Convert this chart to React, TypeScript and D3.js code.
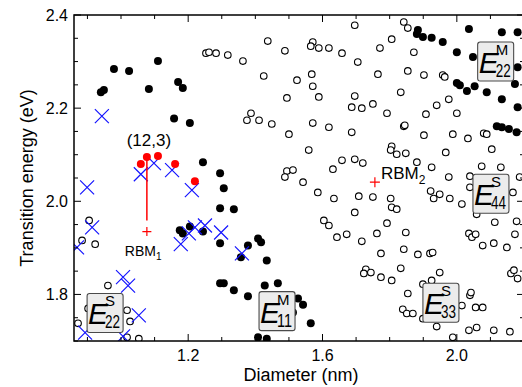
import React from 'react';
import * as d3 from 'd3';

// Kataura-type plot: transition energy vs tube diameter
const metallicPts: [number, number][] = [
  [0.940, 2.234], [0.949, 2.239], [0.979, 2.284], [1.024, 2.280], [1.083, 2.241],
  [1.110, 2.301], [1.170, 2.256], [1.184, 2.243], [1.158, 2.178], [1.205, 2.168],
  [1.244, 2.084], [1.295, 2.060], [1.306, 2.028], [1.295, 1.985], [1.336, 1.983],
  [1.175, 1.938], [1.184, 1.931], [1.205, 1.946], [1.244, 1.935], [1.295, 1.910],
  [1.378, 1.905], [1.357, 1.880], [1.408, 1.920], [1.417, 1.912], [1.434, 1.873],
  [1.295, 1.824], [1.306, 1.824], [1.336, 1.809], [1.378, 1.796], [1.428, 1.819],
  [1.467, 1.824], [1.527, 1.791], [1.542, 1.778], [1.512, 1.761], [1.565, 1.738],
  [1.408, 1.708], [1.434, 1.705],
  [1.884, 2.368], [1.881, 2.359], [1.899, 2.353], [1.925, 2.351], [1.958, 2.342],
  [2.000, 2.320], [2.036, 2.370], [2.048, 2.310], [2.134, 2.363], [2.181, 2.363],
  [2.181, 2.288], [2.000, 2.254], [2.009, 2.249], [2.030, 2.237], [2.053, 2.247],
  [2.089, 2.234], [2.134, 2.219], [2.173, 2.252], [2.181, 2.202], [2.119, 2.161],
  [2.134, 2.159], [2.155, 2.155], [2.178, 2.148],
];

const semiOpenPts: [number, number][] = [
  [0.905, 1.959], [0.884, 1.916], [0.923, 1.908], [0.961, 1.819], [0.902, 1.770],
  [0.872, 1.738], [1.018, 1.766], [1.027, 1.742], [1.018, 1.708], [1.053, 1.705],
  [1.696, 2.378], [1.437, 2.344], [1.571, 2.342], [1.565, 2.333], [1.589, 2.329],
  [1.619, 2.329], [1.658, 2.318], [1.488, 2.323], [1.253, 2.318], [1.262, 2.320],
  [1.283, 2.318], [1.318, 2.314], [1.363, 2.301], [1.705, 2.299], [1.425, 2.269],
  [1.524, 2.260], [1.568, 2.273], [1.571, 2.247], [1.494, 2.222], [1.589, 2.224],
  [1.696, 2.226], [1.687, 2.202], [1.387, 2.189], [1.375, 2.174], [1.411, 2.174],
  [1.449, 2.166], [1.571, 2.168], [1.619, 2.159], [1.842, 2.385], [1.854, 2.372],
  [1.806, 2.348], [1.771, 2.329], [1.872, 2.320], [1.765, 2.273], [1.854, 2.280],
  [1.902, 2.271], [1.958, 2.271], [1.964, 2.267], [1.717, 2.200], [1.750, 2.209],
  [1.833, 2.234], [1.792, 2.189], [1.908, 2.187], [1.940, 2.206], [1.976, 2.219],
  [2.000, 2.189], [1.842, 2.161], [1.687, 2.148], [1.500, 2.144], [1.559, 2.110],
  [1.658, 2.088], [1.696, 2.090], [1.720, 2.082], [1.631, 2.069], [1.494, 2.065],
  [1.512, 2.067], [1.488, 2.052], [1.542, 2.041], [1.586, 2.019], [1.634, 2.006],
  [1.708, 2.011], [1.750, 2.009], [1.696, 1.976], [1.604, 1.959], [1.619, 1.948],
  [1.643, 1.923], [1.672, 1.929], [1.717, 1.914], [1.762, 1.931], [1.845, 2.163],
  [1.902, 2.142], [1.988, 2.144], [2.033, 2.135], [2.080, 2.146], [2.089, 2.144],
  [1.806, 2.118], [1.803, 2.110], [1.821, 2.101], [1.848, 2.103], [1.881, 2.084],
  [1.967, 2.105], [2.104, 2.112], [1.925, 2.073], [2.039, 2.054], [2.074, 2.075],
  [2.131, 2.073], [1.976, 2.052], [2.187, 2.052], [2.039, 2.030], [1.922, 2.022],
  [1.949, 2.015], [1.931, 2.006], [1.979, 2.006], [2.015, 1.994], [1.803, 2.006],
  [1.806, 1.987], [1.821, 1.983], [2.167, 2.019], [2.178, 1.957], [2.113, 1.955],
  [1.792, 1.953], [1.848, 1.933], [2.036, 1.931], [2.045, 1.923], [2.056, 1.929],
  [2.173, 1.929], [2.077, 1.905], [2.110, 1.910], [2.149, 1.901], [1.842, 1.897],
  [1.774, 1.888], [1.884, 1.886], [1.920, 1.888], [1.928, 1.890], [1.729, 1.854],
  [1.723, 1.845], [1.744, 1.847], [1.774, 1.837], [1.806, 1.830], [1.833, 1.856],
  [1.949, 1.847], [1.899, 1.822], [1.925, 1.830], [1.854, 1.802], [2.039, 1.798],
  [2.042, 1.804], [2.161, 1.845], [2.170, 1.852], [2.181, 1.834], [1.839, 1.768],
  [1.851, 1.759], [1.869, 1.759], [1.899, 1.748], [1.940, 1.731], [2.015, 1.776],
  [2.056, 1.772], [2.077, 1.772], [2.036, 1.723], [2.059, 1.729], [2.110, 1.723],
  [2.158, 1.720], [1.988, 1.708], [2.059, 1.972],
];

const e22Crosses: [number, number][] = [
  [0.943, 2.183], [0.899, 2.030], [0.914, 1.944], [0.869, 1.901], [1.059, 2.058],
  [1.098, 2.082], [1.152, 2.067], [1.211, 2.024], [1.178, 1.908], [1.202, 1.931],
  [1.220, 1.944], [1.250, 1.948], [1.298, 1.933], [1.360, 1.888], [1.006, 1.837],
  [1.021, 1.819], [1.053, 1.755], [0.893, 1.718], [1.006, 1.710],
];

const family123: [number, number][] = [
  [1.059, 2.080], [1.077, 2.095], [1.110, 2.097], [1.161, 2.080], [1.220, 2.043],
];

const rbm1: [number, number] = [1.077, 1.935];
const rbm1LineTop = 2.095;
const rbm1LineBottom = 1.959;
const rbm2: [number, number] = [1.756, 2.041];

const bandBoxes = [
  { sup: 'S', sub: '22', d: 0.899, e: 1.802 },
  { sup: 'M', sub: '11', d: 1.411, e: 1.806 },
  { sup: 'S', sub: '33', d: 1.899, e: 1.824 },
  { sup: 'S', sub: '44', d: 2.048, e: 2.058 },
  { sup: 'M', sub: '22', d: 2.062, e: 2.342 },
];

const xTickLabels = [1.2, 1.6, 2.0];
const yTickLabels = [1.8, 2.0, 2.2, 2.4];

const W = 522;
const H = 387;
const margin = { top: 15, right: -2, bottom: 46, left: 74 };
const font = "'Liberation Sans', Arial, Helvetica, sans-serif";

export default function App() {
  const x = d3.scaleLinear().domain([0.86, 2.2]).range([margin.left, W - margin.right]);
  const y = d3.scaleLinear().domain([1.7, 2.4]).range([H - margin.bottom, margin.top]);
  const [x0, x1] = x.range();
  const [y0, y1] = [y(2.4), y(1.7)];

  const xMinor = d3.range(9, 23).map(v => v / 10);
  const yMinor = d3.range(34, 49).map(v => v / 20);
  const isXMajor = (v: number) => Math.round(v * 10) % 4 === 0;
  const isYMajor = (v: number) => Math.round(v * 20) % 4 === 0;

  const cross = (cx: number, cy: number, s: number) =>
    `M${cx - s},${cy - s}L${cx + s},${cy + s}M${cx - s},${cy + s}L${cx + s},${cy - s}`;
  const plus = (cx: number, cy: number, s: number) =>
    `M${cx - s},${cy}L${cx + s},${cy}M${cx},${cy - s}L${cx},${cy + s}`;

  return (
    <div style={{ position: 'absolute', left: 0, top: 0 }}>
      <svg width={W} height={H} style={{ display: 'block', background: '#fff' }} fontFamily={font}>
        <defs>
          <clipPath id="plotClip">
            <rect x={x0} y={y0} width={x1 - x0} height={y1 - y0} />
          </clipPath>
        </defs>

        <g clipPath="url(#plotClip)">
          {semiOpenPts.map(([d, e], i) => (
            <circle key={'o' + i} cx={x(d)} cy={y(e)} r={3.3} fill="#fff" stroke="#000" strokeWidth={1.1} />
          ))}
          {metallicPts.map(([d, e], i) => (
            <circle key={'m' + i} cx={x(d)} cy={y(e)} r={4} fill="#000" />
          ))}
          {e22Crosses.map(([d, e], i) => (
            <path key={'c' + i} d={cross(x(d), y(e), 7)} stroke="#1515ff" strokeWidth={1.2} fill="none" />
          ))}
          {family123.map(([d, e], i) => (
            <circle key={'r' + i} cx={x(d)} cy={y(e)} r={4} fill="#ff0000" />
          ))}
          <line x1={x(rbm1[0])} x2={x(rbm1[0])} y1={y(rbm1LineTop)} y2={y(rbm1LineBottom)} stroke="#ff0000" strokeWidth={1.5} />
          <path d={plus(x(rbm1[0]), y(rbm1[1]), 4.5)} stroke="#ff0000" strokeWidth={1.2} fill="none" />
          <path d={plus(x(rbm2[0]), y(rbm2[1]), 5)} stroke="#ff0000" strokeWidth={1.2} fill="none" />

          {bandBoxes.map((b, i) => {
            const bx = x(b.d);
            const by = y(b.e);
            return (
              <g key={'b' + i} transform={`translate(${bx},${by})`}>
                <rect width={36} height={39} rx={2.5} fill="#ececec" stroke="#4a4a4a" strokeWidth={1.1} />
                <text x={1} y={31} fontSize={30} fontStyle="italic" fill="#000">E</text>
                <text x={18} y={13} fontSize={15} fill="#000">{b.sup}</text>
                <text x={18} y={35} fontSize={18} fill="#000" textLength={15} lengthAdjust="spacingAndGlyphs">{b.sub}</text>
              </g>
            );
          })}
        </g>

        {/* annotations */}
        <text x={x(rbm1[0]) + 2} y={y(rbm1LineTop) - 11} fontSize={17} textAnchor="middle">(12,3)</text>
        <text x={x(rbm1[0]) - 22} y={y(rbm1[1]) + 24} fontSize={14}>
          RBM<tspan fontSize={10} dy={4}>1</tspan>
        </text>
        <text x={x(rbm2[0]) + 6} y={y(rbm2[1]) - 3} fontSize={17}>
          RBM<tspan fontSize={12} dy={5}>2</tspan>
        </text>

        {/* ticks */}
        <g stroke="#000" strokeWidth={1}>
          {xMinor.map(v => {
            const len = isXMajor(v) ? 7 : 4;
            return (
              <g key={'xt' + v}>
                <line x1={x(v)} x2={x(v)} y1={y1} y2={y1 - len} />
                <line x1={x(v)} x2={x(v)} y1={y0} y2={y0 + len} />
              </g>
            );
          })}
          {yMinor.map(v => {
            const len = isYMajor(v) ? 7 : 4;
            return (
              <g key={'yt' + v}>
                <line x1={x0} x2={x0 + len} y1={y(v)} y2={y(v)} />
                <line x1={x1} x2={x1 - len} y1={y(v)} y2={y(v)} />
              </g>
            );
          })}
        </g>
        <rect x={x0} y={y0} width={x1 - x0} height={y1 - y0} fill="none" stroke="#000" strokeWidth={1.5} />

        {/* tick labels */}
        {xTickLabels.map(v => (
          <text key={'xl' + v} x={x(v)} y={y1 + 20} fontSize={16} textAnchor="middle">{v.toFixed(1)}</text>
        ))}
        {yTickLabels.map(v => (
          <text key={'yl' + v} x={x0 - 6} y={y(v) + 6} fontSize={16} textAnchor="end">{v.toFixed(1)}</text>
        ))}

        {/* axis titles */}
        <text x={(x0 + x1) / 2 + 2} y={381} fontSize={18} textAnchor="middle">Diameter (nm)</text>
        <text transform={`translate(33,${(y0 + y1) / 2}) rotate(-90)`} fontSize={18} textAnchor="middle">Transition energy (eV)</text>
      </svg>
    </div>
  );
}
